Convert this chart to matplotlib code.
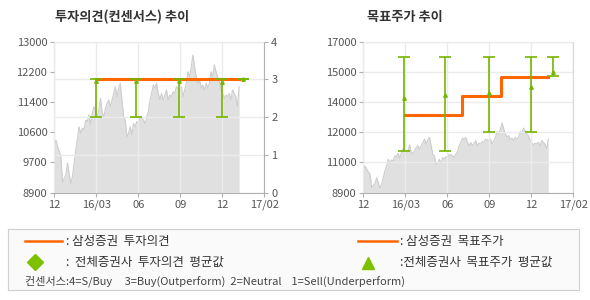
import numpy as np
import matplotlib
matplotlib.use("Agg")
import matplotlib.pyplot as plt
from matplotlib.lines import Line2D

plt.rcParams['font.family'] = ['Noto Sans CJK KR', 'DejaVu Sans']

# =====================================
# Data
# =====================================
x_labels = ["12", "16/03", "06", "09", "12", "17/02"]
left_ylabels = ["8900", "9700", "10600", "11400", "12200", "13000"]
right_ylabels = ["8900", "11000", "12000", "14000", "15000", "17000"]
opinion_ticks = [0, 1, 2, 3, 4]

# price (months since 2015/12 on x)
price = [10150, 10330, 10150, 10010, 9880, 9170, 9290, 9380, 9700, 9425,
         9150, 9335, 9700, 10060, 10330, 10690, 10510, 10650, 10600, 10870,
         10830, 11010, 10740, 11055, 11235, 11145, 10965, 11145, 11460, 11055,
         10965, 11190, 11325, 11415, 11235, 11415, 11595, 11780, 11505, 11735,
         11870, 11415, 10965, 10870, 10420, 10510, 10690, 10465, 10780, 10690,
         10830, 10780, 10965, 10920, 10870, 10780, 10965, 11100, 11415, 11595,
         11825, 11735, 11870, 11595, 11415, 11595, 11415, 11550, 11690, 11415,
         11550, 11505, 11640, 11595, 11780, 11735, 11690, 11780, 11505, 11690,
         11870, 12185, 12050, 12320, 12640, 12320, 12050, 11870, 11960, 11735,
         11825, 11690, 11870, 11735, 11870, 12185, 12050, 12365, 12185, 12050,
         11960, 11690, 11595, 11460, 11550, 11505, 11595, 11415, 11690, 11595,
         11505, 11235, 11780]
price_t = np.linspace(0, 13.2, len(price))

# investment opinion
op_x = [3.0, 13.2]
op_y = [3, 3]
op_bar_x = [3.0, 5.83, 8.93, 12.0, 13.5]
op_mean = [2.97, 2.97, 2.95, 2.93, 3.0]
op_low = [2, 2, 2, 2, 3]
op_high = [3, 3, 3, 3, 3]

# target price (step line)
tp_x = [3.0, 7.02, 7.02, 9.81, 9.81, 13.17]
tp_y = [13070, 13070, 14100, 14100, 15120, 15120]
tp_bar_x = [2.93, 5.83, 8.95, 12.0, 13.52]
tp_mean = [14000, 14160, 14250, 14590, 15390]
tp_low = [11140, 11140, 12140, 12140, 15140]
tp_high = [16160, 16160, 16160, 16160, 16160]

ORANGE = '#ff6600'
GREEN = '#76b500'
FILL = '#e0e0e0'
LINE = '#cdcdcd'
GRID = '#ebebeb'
SPINE = '#b0b0b0'
TXT = '#555555'


def style_axis(ax, ylim, ylabels):
    ax.set_xlim(0, 15)
    ax.set_xticks(np.linspace(0, 15, 6))
    ax.set_xticklabels(x_labels)
    ax.set_ylim(*ylim)
    ax.set_yticks(np.linspace(ylim[0], ylim[1], 6))
    ax.set_yticklabels(ylabels)
    ax.tick_params(colors=SPINE, labelcolor=TXT, labelsize=8, length=3,
                   width=0.8, pad=2)
    for s in ax.spines.values():
        s.set_color(SPINE)
        s.set_linewidth(0.8)
    ax.spines['top'].set_color('#d8d8d8')
    ax.set_axisbelow(False)
    ax.xaxis.grid(True, color=GRID, lw=1)


fig = plt.figure(figsize=(5.9, 3.0), dpi=100)

# =====================================
# Left chart
# =====================================
ax1 = fig.add_axes([0.092, 0.358, 0.356, 0.503])
style_axis(ax1, (8900, 13000), left_ylabels)
ax1.fill_between(price_t, price, 8900, color=FILL, lw=0, zorder=1)
ax1.plot(price_t, price, color=LINE, lw=0.8, zorder=2)

ax1r = ax1.twinx()
ax1r.set_ylim(0, 4)
ax1r.set_yticks(opinion_ticks)
ax1r.tick_params(colors=SPINE, labelcolor=TXT, labelsize=8, length=3,
                 width=0.8, pad=2)
for s in ax1r.spines.values():
    s.set_visible(False)
ax1r.set_axisbelow(True)
ax1r.yaxis.grid(True, color=GRID, lw=1)
ax1r.patch.set_visible(False)
ax1r.plot(op_x, op_y, color=ORANGE, lw=2.2, zorder=4)
err = [np.array(op_mean) - np.array(op_low), np.array(op_high) - np.array(op_mean)]
ax1r.errorbar(op_bar_x, op_mean, yerr=err, fmt='none', ecolor=GREEN,
              elinewidth=1.2, capsize=4, capthick=1.2, zorder=5)
ax1r.plot(op_bar_x, op_mean, ls='none', marker='^', ms=2.5, color=GREEN, zorder=6)

fig.text(0.093, 0.92, "투자의견(컨센서스) 추이", fontsize=9.5, fontweight='bold',
         color='#333333', va='bottom')

# =====================================
# Right chart
# =====================================
ax2 = fig.add_axes([0.616, 0.358, 0.356, 0.503])
style_axis(ax2, (8900, 17000), right_ylabels)
ax2.yaxis.grid(True, color=GRID, lw=1)
ax2.fill_between(price_t, price, 8900, color=FILL, lw=0, zorder=1)
ax2.plot(price_t, price, color=LINE, lw=0.8, zorder=2)
ax2.plot(tp_x, tp_y, color=ORANGE, lw=2.2, zorder=4)
err2 = [np.array(tp_mean) - np.array(tp_low), np.array(tp_high) - np.array(tp_mean)]
ax2.errorbar(tp_bar_x, tp_mean, yerr=err2, fmt='none', ecolor=GREEN,
             elinewidth=1.2, capsize=4, capthick=1.2, zorder=5)
ax2.plot(tp_bar_x, tp_mean, ls='none', marker='^', ms=2.5, color=GREEN, zorder=6)
ax2.spines['right'].set_color('#d8d8d8')

fig.text(0.622, 0.92, "목표주가 추이", fontsize=9.5, fontweight='bold',
         color='#333333', va='bottom')

# =====================================
# Legend box
# =====================================
lg = fig.add_axes([0.014, 0.033, 0.968, 0.203])
lg.set_xlim(0, 571)
lg.set_ylim(61, 0)
lg.set_xticks([])
lg.set_yticks([])
lg.set_facecolor('#fafafa')
for s in lg.spines.values():
    s.set_color('#d0d0d0')

lg.add_line(Line2D([17, 54], [12, 12], color=ORANGE, lw=1.8))
lg.text(58, 12, ": 삼성증권  투자의견", fontsize=9, color='#333333', va='center')
lg.plot([27], [33], marker='D', ms=8, color='#7dc000', ls='none')
lg.text(58, 33, ":  전체증권사  투자의견  평균값", fontsize=9, color='#333333', va='center')
lg.add_line(Line2D([350, 389], [12, 12], color=ORANGE, lw=1.8))
lg.text(392, 12, ": 삼성증권  목표주가", fontsize=9, color='#333333', va='center')
lg.plot([360], [34], marker='^', ms=9, color='#7dc000', ls='none')
lg.text(392, 33, ":전체증권사  목표주가  평균값", fontsize=9, color='#333333', va='center')
lg.text(17, 52, "컨센서스:4=S/Buy     3=Buy(Outperform)  2=Neutral    1=Sell(Underperform)",
        fontsize=8, color='#444444', va='center')

fig.savefig("out.png", dpi=100)
